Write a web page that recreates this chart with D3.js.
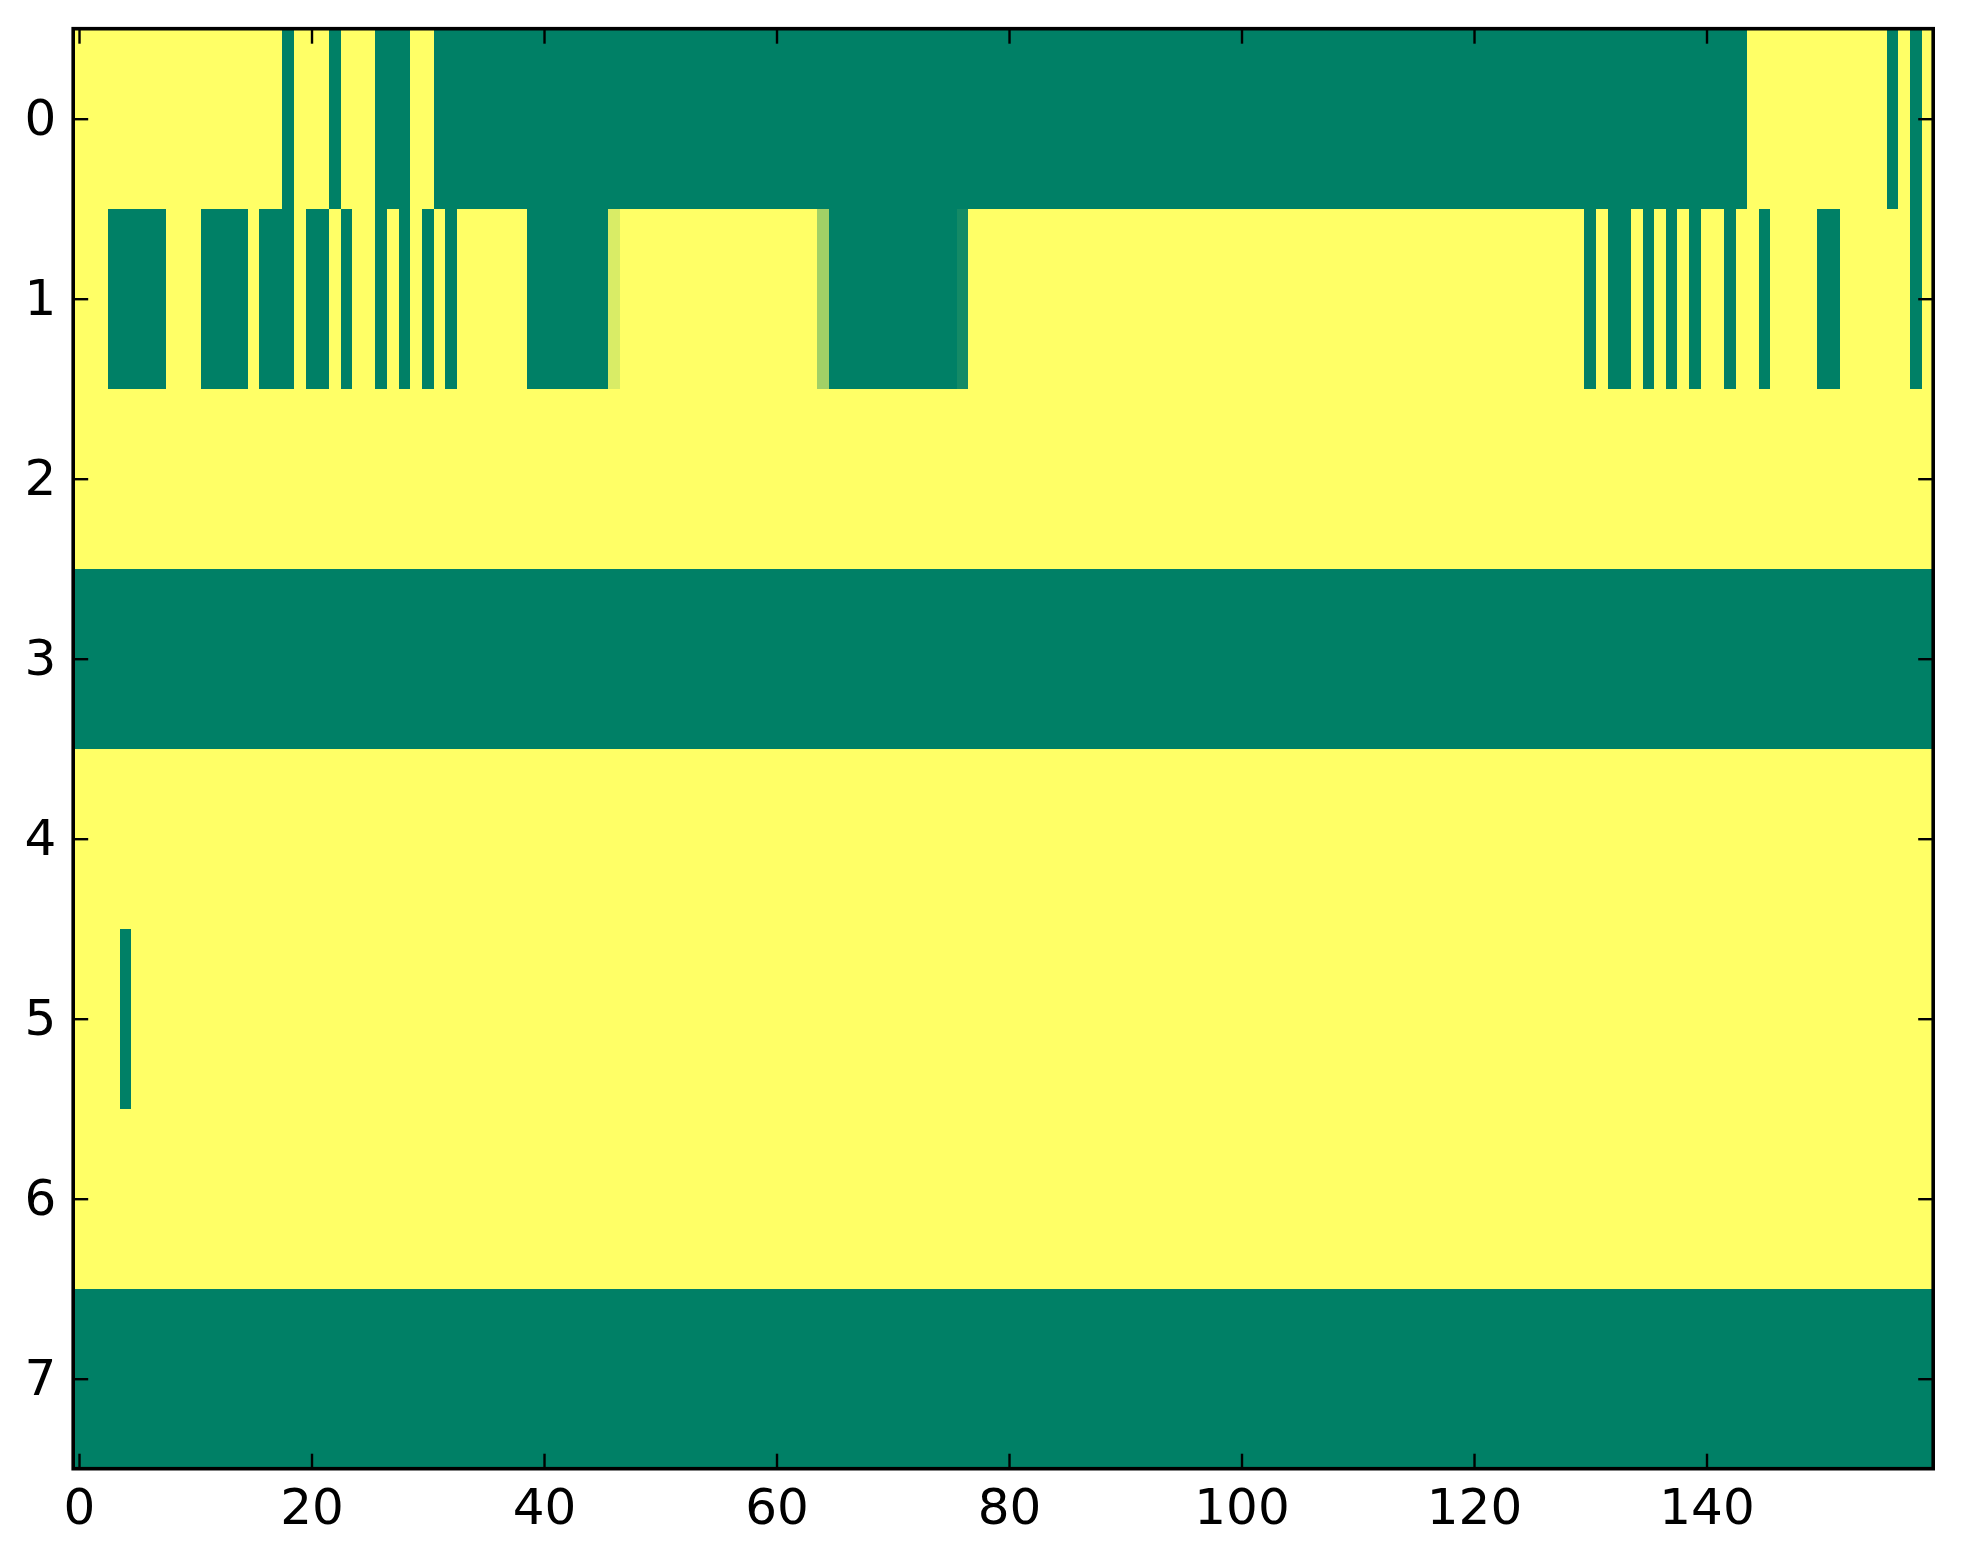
<!DOCTYPE html>
<html>
<head>
<meta charset="utf-8">
<script src="https://cdn.jsdelivr.net/npm/d3@7"></script>
<style>
  body { margin: 0; background: #fff; }
  svg { display: block; }
  .tick text { font-family: "DejaVu Sans", sans-serif; font-size: 50px; fill: #000; }
</style>
</head>
<body>
<script>
(function () {

// one array per image row, 160 columns each, value in [0,1] on the "summer" colormap
var row0 = [
  1,1,1,1,1,1,1,1,1,1,1,1,1,1,1,1,1,1,0,1,
  1,1,0,1,1,1,0,0,0,1,1,0,0,0,0,0,0,0,0,0,
  0,0,0,0,0,0,0,0,0,0,0,0,0,0,0,0,0,0,0,0,
  0,0,0,0,0,0,0,0,0,0,0,0,0,0,0,0,0,0,0,0,
  0,0,0,0,0,0,0,0,0,0,0,0,0,0,0,0,0,0,0,0,
  0,0,0,0,0,0,0,0,0,0,0,0,0,0,0,0,0,0,0,0,
  0,0,0,0,0,0,0,0,0,0,0,0,0,0,0,0,0,0,0,0,
  0,0,0,0,1,1,1,1,1,1,1,1,1,1,1,1,0,1,0,1
];
var row1 = [
  1,1,1,0,0,0,0,0,1,1,1,0,0,0,0,1,0,0,0,1,
  0,0,1,0,1,1,0,1,0,1,0,1,0,1,1,1,1,1,1,0,
  0,0,0,0,0,0,0.85,1,1,1,1,1,1,1,1,1,1,1,1,1,
  1,1,1,1,0.63,0,0,0,0,0,0,0,0,0,0,0,0.08,1,1,1,
  1,1,1,1,1,1,1,1,1,1,1,1,1,1,1,1,1,1,1,1,
  1,1,1,1,1,1,1,1,1,1,1,1,1,1,1,1,1,1,1,1,
  1,1,1,1,1,1,1,1,1,1,0,1,0,0,1,0,1,0,1,0,
  1,1,0,1,1,0,1,1,1,1,0,0,1,1,1,1,1,1,0,1
];
var row2 = [
  1,1,1,1,1,1,1,1,1,1,1,1,1,1,1,1,1,1,1,1,
  1,1,1,1,1,1,1,1,1,1,1,1,1,1,1,1,1,1,1,1,
  1,1,1,1,1,1,1,1,1,1,1,1,1,1,1,1,1,1,1,1,
  1,1,1,1,1,1,1,1,1,1,1,1,1,1,1,1,1,1,1,1,
  1,1,1,1,1,1,1,1,1,1,1,1,1,1,1,1,1,1,1,1,
  1,1,1,1,1,1,1,1,1,1,1,1,1,1,1,1,1,1,1,1,
  1,1,1,1,1,1,1,1,1,1,1,1,1,1,1,1,1,1,1,1,
  1,1,1,1,1,1,1,1,1,1,1,1,1,1,1,1,1,1,1,1
];
var row3 = [
  0,0,0,0,0,0,0,0,0,0,0,0,0,0,0,0,0,0,0,0,
  0,0,0,0,0,0,0,0,0,0,0,0,0,0,0,0,0,0,0,0,
  0,0,0,0,0,0,0,0,0,0,0,0,0,0,0,0,0,0,0,0,
  0,0,0,0,0,0,0,0,0,0,0,0,0,0,0,0,0,0,0,0,
  0,0,0,0,0,0,0,0,0,0,0,0,0,0,0,0,0,0,0,0,
  0,0,0,0,0,0,0,0,0,0,0,0,0,0,0,0,0,0,0,0,
  0,0,0,0,0,0,0,0,0,0,0,0,0,0,0,0,0,0,0,0,
  0,0,0,0,0,0,0,0,0,0,0,0,0,0,0,0,0,0,0,0
];
var row4 = [
  1,1,1,1,1,1,1,1,1,1,1,1,1,1,1,1,1,1,1,1,
  1,1,1,1,1,1,1,1,1,1,1,1,1,1,1,1,1,1,1,1,
  1,1,1,1,1,1,1,1,1,1,1,1,1,1,1,1,1,1,1,1,
  1,1,1,1,1,1,1,1,1,1,1,1,1,1,1,1,1,1,1,1,
  1,1,1,1,1,1,1,1,1,1,1,1,1,1,1,1,1,1,1,1,
  1,1,1,1,1,1,1,1,1,1,1,1,1,1,1,1,1,1,1,1,
  1,1,1,1,1,1,1,1,1,1,1,1,1,1,1,1,1,1,1,1,
  1,1,1,1,1,1,1,1,1,1,1,1,1,1,1,1,1,1,1,1
];
var row5 = [
  1,1,1,1,0,1,1,1,1,1,1,1,1,1,1,1,1,1,1,1,
  1,1,1,1,1,1,1,1,1,1,1,1,1,1,1,1,1,1,1,1,
  1,1,1,1,1,1,1,1,1,1,1,1,1,1,1,1,1,1,1,1,
  1,1,1,1,1,1,1,1,1,1,1,1,1,1,1,1,1,1,1,1,
  1,1,1,1,1,1,1,1,1,1,1,1,1,1,1,1,1,1,1,1,
  1,1,1,1,1,1,1,1,1,1,1,1,1,1,1,1,1,1,1,1,
  1,1,1,1,1,1,1,1,1,1,1,1,1,1,1,1,1,1,1,1,
  1,1,1,1,1,1,1,1,1,1,1,1,1,1,1,1,1,1,1,1
];
var row6 = [
  1,1,1,1,1,1,1,1,1,1,1,1,1,1,1,1,1,1,1,1,
  1,1,1,1,1,1,1,1,1,1,1,1,1,1,1,1,1,1,1,1,
  1,1,1,1,1,1,1,1,1,1,1,1,1,1,1,1,1,1,1,1,
  1,1,1,1,1,1,1,1,1,1,1,1,1,1,1,1,1,1,1,1,
  1,1,1,1,1,1,1,1,1,1,1,1,1,1,1,1,1,1,1,1,
  1,1,1,1,1,1,1,1,1,1,1,1,1,1,1,1,1,1,1,1,
  1,1,1,1,1,1,1,1,1,1,1,1,1,1,1,1,1,1,1,1,
  1,1,1,1,1,1,1,1,1,1,1,1,1,1,1,1,1,1,1,1
];
var row7 = [
  0,0,0,0,0,0,0,0,0,0,0,0,0,0,0,0,0,0,0,0,
  0,0,0,0,0,0,0,0,0,0,0,0,0,0,0,0,0,0,0,0,
  0,0,0,0,0,0,0,0,0,0,0,0,0,0,0,0,0,0,0,0,
  0,0,0,0,0,0,0,0,0,0,0,0,0,0,0,0,0,0,0,0,
  0,0,0,0,0,0,0,0,0,0,0,0,0,0,0,0,0,0,0,0,
  0,0,0,0,0,0,0,0,0,0,0,0,0,0,0,0,0,0,0,0,
  0,0,0,0,0,0,0,0,0,0,0,0,0,0,0,0,0,0,0,0,
  0,0,0,0,0,0,0,0,0,0,0,0,0,0,0,0,0,0,0,0
];
var rows = [row0, row1, row2, row3, row4, row5, row6, row7];

var xTicks = [0, 20, 40, 60, 80, 100, 120, 140];
var yTicks = [0, 1, 2, 3, 4, 5, 6, 7];

var W = 1963, H = 1564;
var left = 73.2, right = 1933.2, top = 28.7, bottom = 1468.7;

var svg = d3.select("body").append("svg")
  .attr("width", W)
  .attr("height", H);

var x = d3.scaleLinear().domain([-0.5, 159.5]).range([left, right]);
var y = d3.scaleLinear().domain([-0.5, 7.5]).range([top, bottom]);

// matplotlib "summer": (0,0.5,0.4) -> (1,1,0.4)
var color = d3.scaleLinear().domain([0, 1])
  .range(["rgb(0,128,102)", "rgb(255,255,102)"])
  .interpolate(d3.interpolateRgb);

var cells = [];
rows.forEach(function (r, ri) {
  r.forEach(function (v, ci) { cells.push({ row: ri, col: ci, v: v }); });
});

svg.append("g")
  .attr("shape-rendering", "crispEdges")
  .selectAll("rect")
  .data(cells)
  .enter()
  .append("rect")
  .attr("x", function (d) { return x(d.col - 0.5); })
  .attr("y", function (d) { return y(d.row - 0.5); })
  .attr("width", function (d) { return x(d.col + 0.5) - x(d.col - 0.5) + 0.6; })
  .attr("height", function (d) { return y(d.row + 0.5) - y(d.row - 0.5) + 0.6; })
  .style("fill", function (d) { return color(d.v); });

// ticks point inward on all four sides, like matplotlib classic
function styleAxis(g) {
  g.select(".domain").remove();
  g.selectAll(".tick line").attr("stroke", "#000").attr("stroke-width", 2.4);
}

svg.append("g")
  .attr("transform", "translate(0," + bottom + ")")
  .call(d3.axisBottom(x).tickValues(xTicks).tickSizeInner(-15).tickSizeOuter(0).tickPadding(20))
  .call(styleAxis);

svg.append("g")
  .attr("transform", "translate(0," + top + ")")
  .call(d3.axisTop(x).tickValues(xTicks).tickSizeInner(-15).tickSizeOuter(0).tickFormat(""))
  .call(styleAxis);

svg.append("g")
  .attr("transform", "translate(" + left + ",0)")
  .call(d3.axisLeft(y).tickValues(yTicks).tickSizeInner(-15).tickSizeOuter(0).tickPadding(17))
  .call(styleAxis);

svg.append("g")
  .attr("transform", "translate(" + right + ",0)")
  .call(d3.axisRight(y).tickValues(yTicks).tickSizeInner(-15).tickSizeOuter(0).tickFormat(""))
  .call(styleAxis);

svg.selectAll(".tick text").attr("font-family", null).attr("font-size", null);

// frame
svg.append("rect")
  .attr("x", left)
  .attr("y", top)
  .attr("width", right - left)
  .attr("height", bottom - top)
  .attr("fill", "none")
  .attr("stroke", "#000")
  .attr("stroke-width", 3.6);

})();
</script>
</body>
</html>
